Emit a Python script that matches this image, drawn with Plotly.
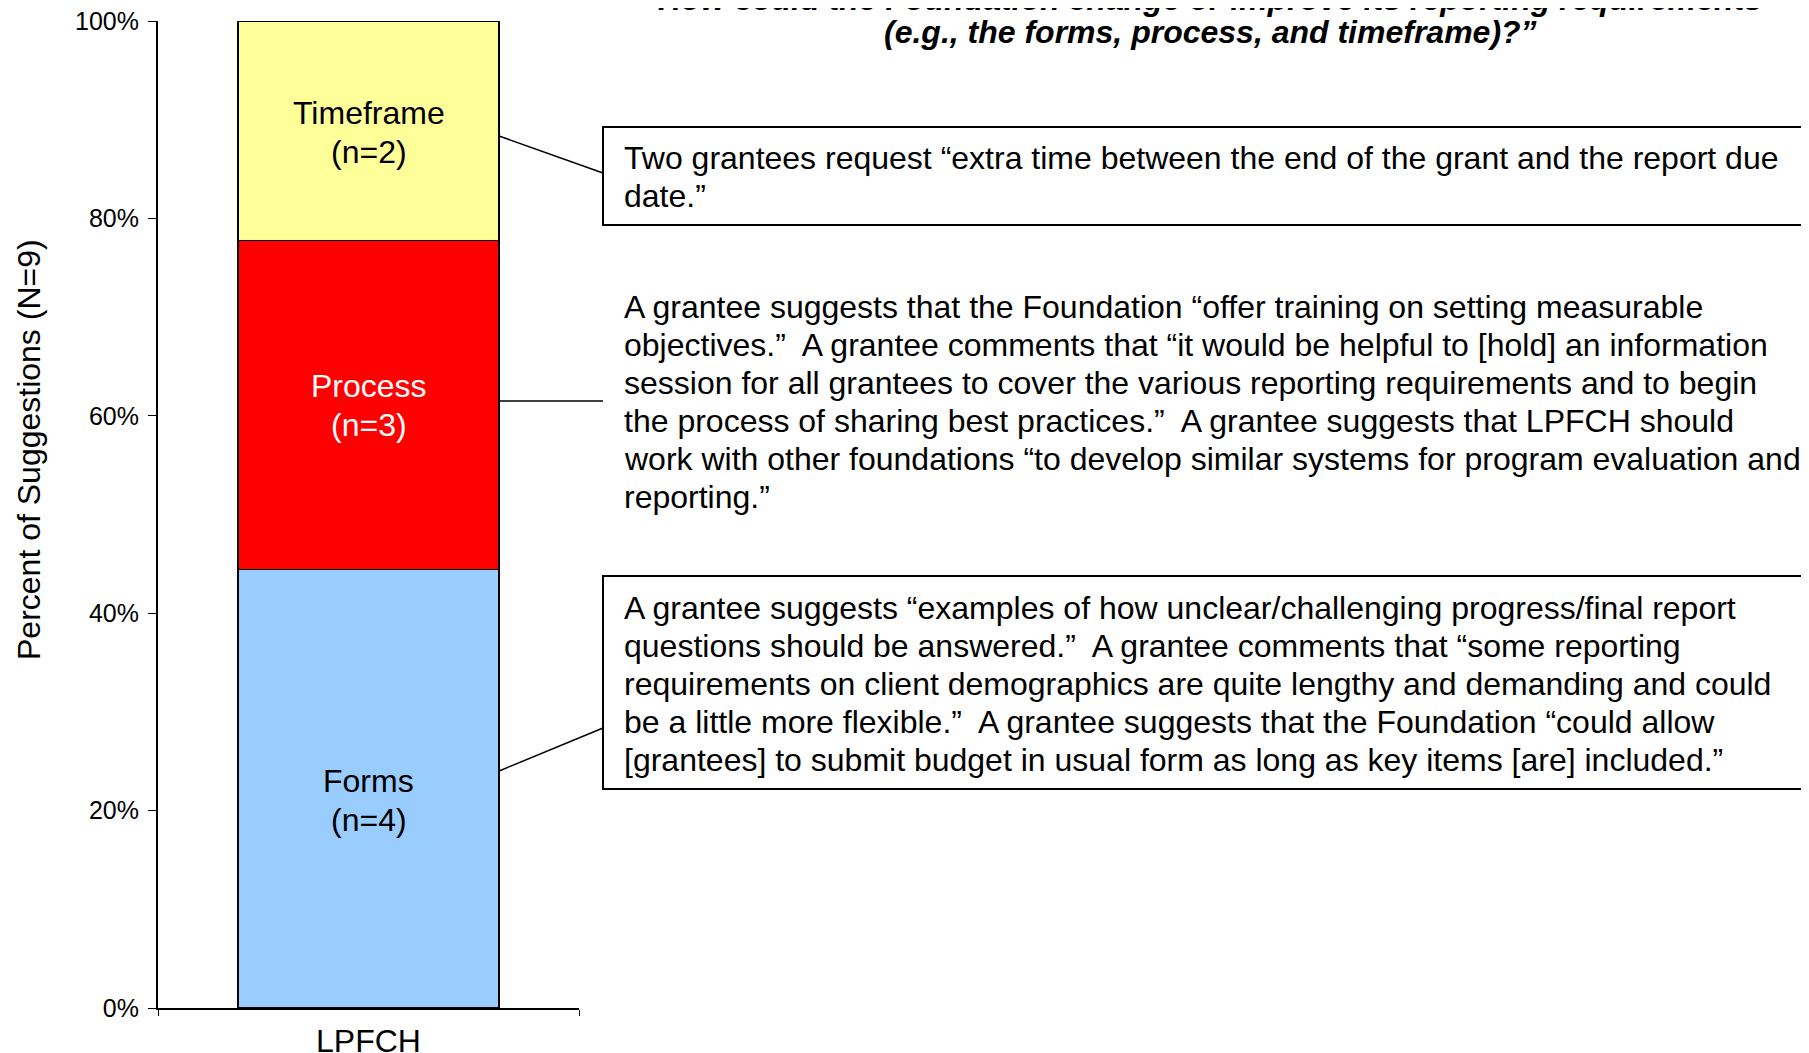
import plotly.graph_objects as go

# data
category = ["LPFCH"]
segments = ["Forms", "Process", "Timeframe"]
counts = [4, 3, 2]
total_n = 9
colors = ["#99CCFF", "#FF0000", "#FFFF99"]
label_colors = ["black", "white", "black"]
pct_ticks = [0, 20, 40, 60, 80, 100]
pct_labels = [f"{v}%" for v in pct_ticks]

title_lines = ["How could the Foundation change or improve its reporting requirements",
               "(e.g., the forms, process, and timeframe)?\u201d"]
yaxis_title = "Percent of Suggestions (N=9)"

timeframe_note = ["Two grantees request \u201cextra time between the end of the grant and the report due",
                  "date.\u201d"]
process_note = ["A grantee suggests that the Foundation \u201coffer training on setting measurable",
                "objectives.\u201d  A grantee comments that \u201cit would be helpful to [hold] an information",
                "session for all grantees to cover the various reporting requirements and to begin",
                "the process of sharing best practices.\u201d  A grantee suggests that LPFCH should",
                "work with other foundations \u201cto develop similar systems for program evaluation and",
                "reporting.\u201d"]
forms_note = ["A grantee suggests \u201cexamples of how unclear/challenging progress/final report",
              "questions should be answered.\u201d  A grantee comments that \u201csome reporting",
              "requirements on client demographics are quite lengthy and demanding and could",
              "be a little more flexible.\u201d  A grantee suggests that the Foundation \u201ccould allow",
              "[grantees] to submit budget in usual form as long as key items [are] included.\u201d"]

W, H = 1809, 1053
OFF = 8  # page body margin
L, R, T, B = 158 - OFF, 579 - OFF, 21 - OFF, 1008 - OFF
FONT = "Liberation Sans, Arial, sans-serif"
LINE = 38


def px(x):
    # screenshot x -> paper
    return (x - OFF - L) / (R - L)


def py(y):
    # screenshot y -> paper
    return (B - (y - OFF)) / (B - T)


fig = go.Figure()
pcts = [n / total_n * 100 for n in counts]
for name, p, c in zip(segments, pcts, colors):
    fig.add_trace(go.Bar(
        x=category, y=[p], name=name,
        marker=dict(color=c, line=dict(color="black", width=1.5)),
        width=0.62, hoverinfo="skip",
    ))

# segment labels, centred on each stacked segment
label_shift = [-12, -1, -2]
base = 0
for name, n, p, lc, sh in zip(segments, counts, pcts, label_colors, label_shift):
    mid = base + p / 2
    base += p
    for txt, dy in [(name, 19.5), (f"(n={n})", -19.5)]:
        fig.add_annotation(text=txt, x=category[0], y=mid, xref="x", yref="y",
                           yshift=dy + sh, showarrow=False, yanchor="middle",
                           font=dict(family=FONT, size=32, color=lc))

fig.update_layout(
    width=W, height=H,
    barmode="stack", showlegend=False,
    plot_bgcolor="white", paper_bgcolor="white",
    margin=dict(l=L, r=W - R, t=T, b=H - B),
    font=dict(family=FONT, color="black"),
    xaxis=dict(showline=True, linecolor="black", linewidth=2, ticks="outside",
               tickson="boundaries", ticklen=6, tickcolor="black", ticklabelstandoff=4,
               tickfont=dict(size=32), automargin=False, range=[-0.5, 0.5]),
    yaxis=dict(range=[0, 100], tickmode="array", tickvals=pct_ticks, ticktext=pct_labels,
               showline=True, linecolor="black", linewidth=2, ticks="outside",
               ticklen=8, tickcolor="black", showgrid=False, zeroline=False,
               ticklabelstandoff=4, ticklabeloverflow="allow",
               tickfont=dict(size=25), automargin=False),
)

# callout boxes
box_line = dict(color="black", width=2)
fig.add_shape(type="rect", xref="paper", yref="paper",
              x0=px(603), x1=px(1840), y0=py(225), y1=py(127), line=box_line, fillcolor="white")
fig.add_shape(type="rect", xref="paper", yref="paper",
              x0=px(603), x1=px(1840), y0=py(789), y1=py(576), line=box_line, fillcolor="white")

# connectors from bar segments to notes
conn = dict(color="black", width=1.5)
bar_edge = 0.5 + 0.62 / 2
fig.add_shape(type="line", xref="paper", yref="paper",
              x0=bar_edge, y0=py(136), x1=px(603), y1=py(173), line=conn)
fig.add_shape(type="line", xref="paper", yref="paper",
              x0=bar_edge, y0=py(401), x1=px(603), y1=py(401), line=conn)
fig.add_shape(type="line", xref="paper", yref="paper",
              x0=bar_edge, y0=py(771), x1=px(603), y1=py(728), line=conn)

note_font = dict(family=FONT, size=32, color="black")
for lines, y_first in [(timeframe_note, 158), (process_note, 307), (forms_note, 608)]:
    for i, ln in enumerate(lines):
        fig.add_annotation(text=ln, xref="paper", yref="paper", x=px(622), y=py(y_first + i * LINE),
                           xanchor="left", yanchor="middle", align="left",
                           showarrow=False, font=note_font)

# title: first line runs off the top edge, as in the source
for ln, yc in zip(title_lines, [-1, 32]):
    fig.add_annotation(text=f"<b><i>{ln}</i></b>", xref="paper", yref="paper",
                       x=px(1210), y=py(yc),
                       xanchor="center", yanchor="middle", showarrow=False,
                       font=dict(family=FONT, size=32, color="black"))

fig.add_annotation(text=yaxis_title, xref="paper", yref="paper", x=px(29), y=py(450),
                   xanchor="center", yanchor="middle", textangle=-90, showarrow=False,
                   font=dict(family=FONT, size=32, color="black"))

fig.write_html("out.html")
